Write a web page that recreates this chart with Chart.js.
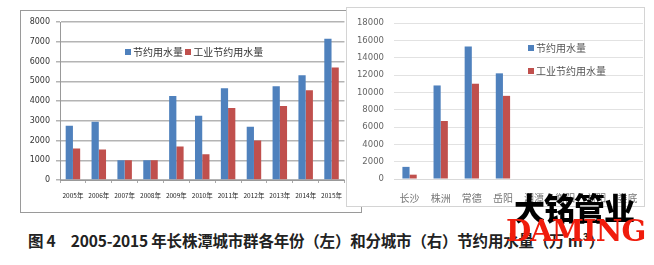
<!DOCTYPE html>
<html>
<head>
<meta charset="utf-8">
<script src="https://cdn.jsdelivr.net/npm/chart.js@4.4.1/dist/chart.umd.min.js"></script>
<style>
    body { margin: 0; width: 654px; height: 265px; background: #fff; position: relative; overflow: hidden; font-family: "Noto Sans CJK SC", sans-serif; }
    .box { position: absolute; background: #fff; }
    #leftBox { left: 20px; top: 10px; width: 340px; height: 201px; border: 1px solid #9a9a9a; }
    #rightBox { left: 346px; top: 7px; width: 297px; height: 198px; border: 1px solid #d4d4d4; }
    canvas { position: absolute; }
    .legend { position: absolute; font-size: 10px; color: #333; white-space: nowrap; }
    .sw { display: inline-block; width: 6px; height: 6px; margin-right: 2px; vertical-align: 1px; }
    #caption { position: absolute; left: 28px; top: 229px; font-size: 15.5px; font-weight: bold; color: #222; white-space: nowrap; letter-spacing: -0.2px; }
    #wm1 { position: absolute; left: 514px; top: 184px; font-size: 31px; font-weight: 900; color: #000; letter-spacing: -1px; white-space: nowrap; }
    #wm2 { position: absolute; left: 506px; top: 213px; font-family: "DejaVu Serif", serif; font-size: 30px; font-weight: bold; color: #f01c0c; white-space: nowrap; letter-spacing: -1px; transform: scaleX(0.97); transform-origin: left top; }
</style>
</head>
<body>
<div class="box" id="leftBox"><canvas id="leftChart"></canvas>
    <div class="legend" style="left:104px; top:33px;"><span class="sw" style="background:#4F81BD"></span>节约用水量 <span class="sw" style="background:#C0504D"></span>工业节约用水量</div>
</div>
<div class="box" id="rightBox"><canvas id="rightChart"></canvas>
    <div class="legend" style="left:181px; top:32px; color:#555;"><span class="sw" style="background:#4F81BD"></span>节约用水量</div>
    <div class="legend" style="left:181px; top:55px; color:#555;"><span class="sw" style="background:#C0504D"></span>工业节约用水量</div>
</div>
<div id="caption">图 4　2005-2015 年长株潭城市群各年份（左）和分城市（右）节约用水量（万 m³）</div>
<div id="wm1">大铭管业</div>
<div id="wm2">DAMING</div>
<script>
    // Left chart: by year
    const years = ['2005年', '2006年', '2007年', '2008年', '2009年', '2010年', '2011年', '2012年', '2013年', '2014年', '2015年'];
    const yearSaved = [2750, 2950, 1000, 1000, 4250, 3250, 4650, 2700, 4750, 5300, 7150];
    const yearIndustry = [1600, 1550, 1000, 1000, 1700, 1300, 3650, 2000, 3750, 4550, 5700];

    // Right chart: by city
    const cities = ['长沙', '株洲', '常德', '岳阳', '湘潭', '衡阳', '益阳', '娄底'];
    const citySaved = [1400, 10800, 15300, 12200, null, null, null, null];
    const cityIndustry = [500, 6700, 11000, 9600, null, null, null, null];

    const seriesNames = ['节约用水量', '工业节约用水量'];
    const blue = '#4F81BD';
    const red = '#C0504D';

    function setCanvas(id, left, top, w, h) {
        const c = document.getElementById(id);
        c.style.left = left + 'px';
        c.style.top = top + 'px';
        c.style.width = w + 'px';
        c.style.height = h + 'px';
        c.width = w;
        c.height = h;
        return c;
    }

    const plainNum = (v) => String(v);

    const leftCanvas = setCanvas('leftChart', 0, 0, 330, 199);
    new Chart(leftCanvas.getContext('2d'), {
        type: 'bar',
        data: {
            labels: years,
            datasets: [
                { label: seriesNames[0], data: yearSaved, backgroundColor: blue },
                { label: seriesNames[1], data: yearIndustry, backgroundColor: red }
            ]
        },
        options: {
            responsive: false,
            animation: false,
            layout: { padding: { top: 11, right: 0, left: 0, bottom: 0 } },
            plugins: { legend: { display: false }, tooltip: { enabled: false } },
            datasets: { bar: { categoryPercentage: 0.56, barPercentage: 1 } },
            scales: {
                x: {
                    afterFit: (s) => { s.height = 30; },
                    grid: { display: true, drawOnChartArea: false, color: '#aaa', tickLength: 3 },
                    border: { color: '#999' },
                    ticks: { color: '#222', font: { size: 6.5, family: "'Noto Sans CJK SC'" }, padding: 9, maxRotation: 0, autoSkip: false }
                },
                y: {
                    min: 0, max: 8000,
                    afterFit: (s) => { s.width = 39; },
                    grid: { color: '#b4b4b4', lineWidth: 1.5, tickLength: 4 },
                    border: { color: '#999' },
                    ticks: { stepSize: 1000, color: '#333', font: { size: 8, family: 'DejaVu Sans' }, padding: 6, callback: plainNum }
                }
            }
        }
    });

    const rightCanvas = setCanvas('rightChart', 0, 0, 296, 197);
    new Chart(rightCanvas.getContext('2d'), {
        type: 'bar',
        data: {
            labels: cities,
            datasets: [
                { label: seriesNames[0], data: citySaved, backgroundColor: blue },
                { label: seriesNames[1], data: cityIndustry, backgroundColor: red }
            ]
        },
        options: {
            responsive: false,
            animation: false,
            layout: { padding: { top: 11, right: 0, left: 0, bottom: 0 } },
            plugins: { legend: { display: false }, tooltip: { enabled: false } },
            datasets: { bar: { categoryPercentage: 0.46, barPercentage: 1 } },
            scales: {
                x: {
                    afterFit: (s) => { s.height = 26; },
                    grid: { display: false },
                    border: { color: '#d9d9d9' },
                    ticks: { color: '#777', font: { size: 10, family: "'Noto Sans CJK SC'" }, padding: 5, maxRotation: 0, autoSkip: false }
                },
                y: {
                    min: 0, max: 18000,
                    afterFit: (s) => { s.width = 47; },
                    grid: { color: '#e2e2e2', lineWidth: 1, drawTicks: false },
                    border: { display: false },
                    ticks: { stepSize: 2000, color: '#666', font: { size: 8.5, family: 'DejaVu Sans' }, padding: 10, callback: plainNum }
                }
            }
        }
    });
</script>
</body>
</html>
